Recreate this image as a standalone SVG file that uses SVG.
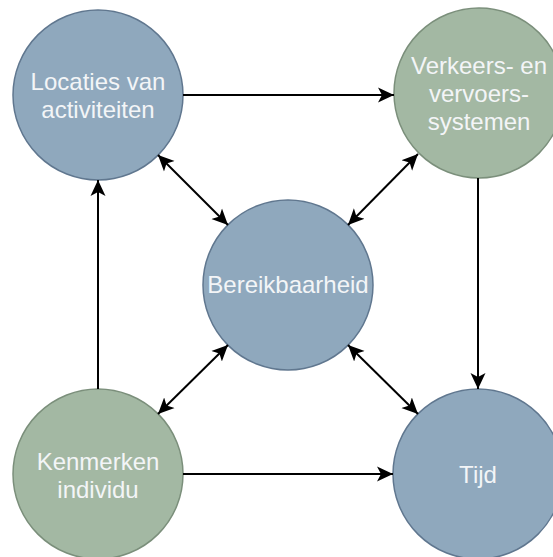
<svg xmlns="http://www.w3.org/2000/svg" width="553" height="557" viewBox="0 0 553 557">
  <style>
    .blue { fill: #8fa8bd; stroke: #60778f; stroke-width: 1.5; }
    .green { fill: #a3b8a3; stroke: #7b8f7b; stroke-width: 1.5; }
    .lbl { font-family: "Liberation Sans", Arial, Helvetica, sans-serif; font-size: 24px; fill: #f3f5f7; text-anchor: middle; }
    .edge { fill: none; stroke: #000; stroke-width: 2; }
  </style>
  <defs>
    <marker id="arrow" viewBox="0 0 16 16" refX="16" refY="8" markerWidth="16" markerHeight="16" markerUnits="userSpaceOnUse" orient="auto-start-reverse">
      <path d="M0,0.5 L16,8 L0,15.5 L4,8 Z" fill="#000"/>
    </marker>
  </defs>

  <rect width="553" height="557" fill="#fff"/>

  <g id="node-locaties">
    <circle class="blue" cx="98" cy="95" r="85"/>
    <text class="lbl" x="98" y="90">Locaties van</text>
    <text class="lbl" x="98" y="118">activiteiten</text>
  </g>

  <g id="node-verkeers">
    <circle class="green" cx="479" cy="93" r="85"/>
    <text class="lbl" x="479" y="74">Verkeers- en</text>
    <text class="lbl" x="479" y="102">vervoers-</text>
    <text class="lbl" x="479" y="130">systemen</text>
  </g>

  <g id="node-bereikbaarheid">
    <circle class="blue" cx="288" cy="285" r="85"/>
    <text class="lbl" x="288" y="293">Bereikbaarheid</text>
  </g>

  <g id="node-kenmerken">
    <circle class="green" cx="98" cy="474" r="85"/>
    <text class="lbl" x="98" y="470">Kenmerken</text>
    <text class="lbl" x="98" y="498">individu</text>
  </g>

  <g id="node-tijd">
    <circle class="blue" cx="478" cy="474" r="85"/>
    <text class="lbl" x="478" y="483">Tijd</text>
  </g>

  <g id="connectors">
    <path class="edge" d="M183,95 L394,95" marker-end="url(#arrow)"/>
    <path class="edge" d="M183,474 L393,474" marker-end="url(#arrow)"/>
    <path class="edge" d="M98,389 L98,180" marker-end="url(#arrow)"/>
    <path class="edge" d="M478,178 L478,389" marker-end="url(#arrow)"/>
    <path class="edge" d="M158,155 L228,225" marker-start="url(#arrow)" marker-end="url(#arrow)"/>
    <path class="edge" d="M418,154 L348,225" marker-start="url(#arrow)" marker-end="url(#arrow)"/>
    <path class="edge" d="M158,414 L228,345" marker-start="url(#arrow)" marker-end="url(#arrow)"/>
    <path class="edge" d="M418,414 L348,345" marker-start="url(#arrow)" marker-end="url(#arrow)"/>
  </g>
</svg>
